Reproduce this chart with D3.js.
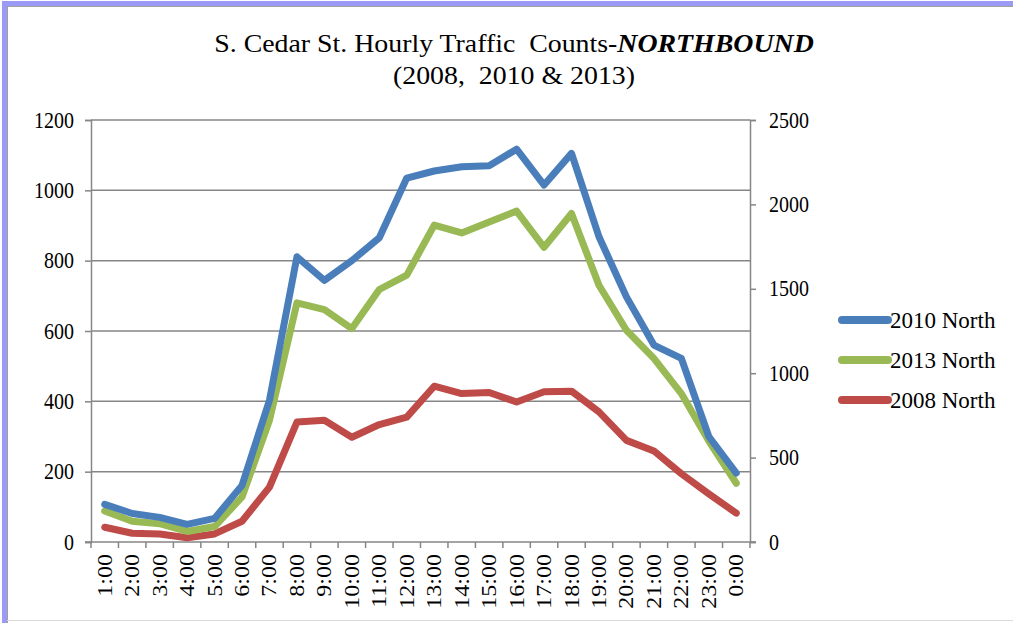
<!DOCTYPE html>
<html>
<head>
<meta charset="utf-8">
<script src="https://cdn.jsdelivr.net/npm/d3@7"></script>
<style>
  body { margin: 0; background: #fff; }
  text { font-family: "Liberation Serif", "Times New Roman", serif; fill: #000; }
</style>
</head>
<body>
<div class="chart"></div>
<script>
// hours on the x axis
const hours = ["1:00","2:00","3:00","4:00","5:00","6:00","7:00","8:00","9:00","10:00","11:00","12:00",
  "13:00","14:00","15:00","16:00","17:00","18:00","19:00","20:00","21:00","22:00","23:00","0:00"];

const north2010 = [107, 81, 70, 50, 67, 161, 403, 811, 744, 800, 865, 1035,
  1055, 1067, 1070, 1117, 1015, 1105, 868, 697, 560, 522, 300, 196];
const north2013 = [88, 59, 52, 30, 44, 128, 346, 680, 661, 607, 718, 759,
  901, 879, 910, 941, 838, 934, 730, 602, 522, 422, 287, 167];
const north2008 = [42, 25, 23, 12, 23, 59, 156, 341, 346, 298, 334, 355,
  443, 422, 425, 398, 427, 429, 370, 289, 259, 194, 137, 82];

const leftTicks = [0, 200, 400, 600, 800, 1000, 1200];
const rightTicks = [0, 500, 1000, 1500, 2000, 2500];

const seriesNames = ["2010 North", "2013 North", "2008 North"];
const seriesColors = ["#4a7ebb", "#98b954", "#be4b48"];
const seriesData = [north2010, north2013, north2008];

const W = 1013, H = 623;
const margin = {top: 120, right: 263, bottom: 81, left: 91},
    width = W - margin.left - margin.right,
    height = H - margin.top - margin.bottom;
const sy = 1.2; // axis text is drawn a little taller than wide, like the original

const svg = d3.select(".chart").append("svg")
    .attr("width", W)
    .attr("height", H);

// outer frame
svg.append("rect").attr("x", 0).attr("y", 0).attr("width", W).attr("height", H).attr("fill", "#fff");
svg.append("rect").attr("x", 2).attr("y", 1).attr("width", W).attr("height", 5).attr("fill", "#9b9bf5");
svg.append("rect").attr("x", 2).attr("y", 1).attr("width", 5).attr("height", H).attr("fill", "#9b9bf5");
svg.append("line").attr("x1", 7).attr("x2", W).attr("y1", 6.5).attr("y2", 6.5).attr("stroke", "#a0a0a0");
svg.append("line").attr("x1", 7.5).attr("x2", 7.5).attr("y1", 6).attr("y2", H).attr("stroke", "#a0a0a0");
svg.append("line").attr("x1", 7).attr("x2", W).attr("y1", 620.5).attr("y2", 620.5).attr("stroke", "#d9d9d9");

function stretchedText(g, x, y, str, size) {
    return g.append("text")
        .attr("transform", `translate(${x},${y}) scale(1,${sy})`)
        .attr("font-size", size)
        .text(str);
}

// title
const title = svg.append("text")
    .attr("transform", `translate(514,52) scale(1.16,1.05)`)
    .attr("text-anchor", "middle")
    .attr("font-size", 24);
title.append("tspan").text("S. Cedar St. Hourly Traffic\u00a0 Counts-");
title.append("tspan").attr("font-weight", "bold").attr("font-style", "italic").text("NORTHBOUND");
svg.append("text")
    .attr("transform", `translate(514,84) scale(1.16,1.05)`)
    .attr("text-anchor", "middle")
    .attr("font-size", 24)
    .text("(2008,\u00a0 2010 & 2013)");

const g = svg.append("g")
    .attr("transform", "translate(" + margin.left + "," + margin.top + ")");

const xScale = d3.scaleBand()
    .domain(hours)
    .range([0, width]);

const yScale = d3.scaleLinear()
    .domain([0, 1200])
    .range([height, 0]);

const yRight = d3.scaleLinear()
    .domain([0, 2500])
    .range([height, 0]);

// gridlines
g.append("g")
    .selectAll("line")
    .data(leftTicks.filter(d => d > 0))
    .join("line")
    .attr("x1", 0).attr("x2", width)
    .attr("y1", d => yScale(d)).attr("y2", d => yScale(d))
    .attr("stroke", "#868686")
    .attr("stroke-width", 1.5);

// left axis
const yAxis = d3.axisLeft(yScale).tickValues(leftTicks).tickSize(6).tickFormat(d3.format("d"));
const ya = g.append("g")
    .attr("class", "axis y-axis")
    .call(yAxis);
ya.select(".domain").attr("stroke", "#868686").attr("stroke-width", 1.5);
ya.selectAll(".tick line").attr("stroke", "#868686").attr("stroke-width", 1.5);
ya.selectAll(".tick text").remove();
ya.selectAll(".tick").each(function(d) {
    stretchedText(d3.select(this), -17, 7, d, 20).attr("text-anchor", "end");
});

// right axis
const yAxisR = d3.axisRight(yRight).tickValues(rightTicks).tickSize(6);
const yr = g.append("g")
    .attr("class", "axis y-axis-right")
    .attr("transform", `translate(${width},0)`)
    .call(yAxisR);
yr.select(".domain").attr("stroke", "#868686").attr("stroke-width", 1.5);
yr.selectAll(".tick line").attr("stroke", "#868686").attr("stroke-width", 1.5);
yr.selectAll(".tick text").remove();
yr.selectAll(".tick").each(function(d) {
    stretchedText(d3.select(this), 19, 7, d, 20).attr("text-anchor", "start");
});

// bottom axis: ticks at category boundaries
const xa = g.append("g")
    .attr("class", "axis x-axis")
    .attr("transform", `translate(0, ${height})`);
xa.append("line")
    .attr("x1", -6).attr("x2", width + 6)
    .attr("stroke", "#868686").attr("stroke-width", 1.5);
xa.selectAll(".bnd")
    .data(hours.concat(["end"]))
    .join("line")
    .attr("class", "bnd")
    .attr("x1", (d, i) => i * xScale.step())
    .attr("x2", (d, i) => i * xScale.step())
    .attr("y1", 0).attr("y2", 6)
    .attr("stroke", "#868686").attr("stroke-width", 1.5);
xa.selectAll(".lbl")
    .data(hours)
    .join("text")
    .attr("class", "lbl")
    .attr("transform", d => `translate(${xScale(d) + xScale.bandwidth() / 2 + 7},12) rotate(-90) scale(${sy},1)`)
    .attr("text-anchor", "end")
    .attr("font-size", 20)
    .text(d => d);

// lines
const line = d3.line()
    .x((d, i) => xScale(hours[i]) + xScale.bandwidth() / 2)
    .y(d => yScale(d));

g.append("g")
    .selectAll("path")
    .data([2, 1, 0])
    .join("path")
    .attr("fill", "none")
    .attr("stroke", i => seriesColors[i])
    .attr("stroke-width", 7)
    .attr("stroke-linejoin", "round")
    .attr("stroke-linecap", "round")
    .attr("d", i => line(seriesData[i]));

// legend
const legend = svg.append("g")
    .attr("transform", "translate(838,320)");
const item = legend.selectAll("g")
    .data(seriesNames)
    .join("g")
    .attr("transform", (d, i) => `translate(0, ${i * 40})`);
item.append("line")
    .attr("x1", 4).attr("x2", 50)
    .attr("stroke", (d, i) => seriesColors[i])
    .attr("stroke-width", 8)
    .attr("stroke-linecap", "round");
item.append("text")
    .attr("x", 52)
    .attr("y", 8)
    .attr("font-size", 23)
    .text(d => d);
</script>
</body>
</html>
